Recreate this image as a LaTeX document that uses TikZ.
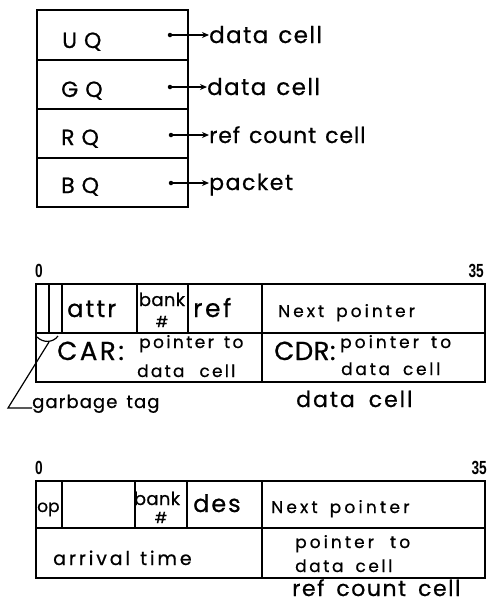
\documentclass[tikz,border=0pt]{standalone}
\usepackage{fontspec}
\setmainfont{Poppins}[FakeBold=0.7]
\newfontfamily\numfont{Liberation Sans}
\newcommand\fz[2]{\fontsize{#1}{#1}\selectfont\addfontfeature{LetterSpace=#2,FakeBold=0.7}}
\newcommand\gap[1]{\hspace{#1pt}}
\newcommand\bitnum[1]{\scalebox{0.72}[1]{\numfont\bfseries\fontsize{19}{19}\selectfont #1}}
\usetikzlibrary{arrows.meta}
\begin{document}
\begin{tikzpicture}[x=1pt,y=-1pt,
  cellbox/.style={draw,line width=1.6pt,anchor=north west,inner sep=0pt,outer sep=0pt},
  txt/.style={inner sep=0pt,anchor=base west},
  ctxt/.style={inner sep=0pt,anchor=base},
  ptr/.style={line width=1.4pt,-{Stealth[length=7pt,width=6pt]}},
  dotstart/.style={circle,fill,inner sep=0pt,minimum size=4.5pt},
  thin/.style={line width=1.2pt}]
\useasboundingbox (0,0) rectangle (487,603);
% ---------- queue box ----------
\node[cellbox,minimum width=151pt,minimum height=50pt] (uq) at (37,10) {};
\node[cellbox,minimum width=151pt,minimum height=49pt] (gq) at (37,60) {};
\node[cellbox,minimum width=151pt,minimum height=49pt] (rq) at (37,109) {};
\node[cellbox,minimum width=151pt,minimum height=49pt] (bq) at (37,158) {};
\node[txt,font=\fz{22}{2}] (uqt) at (62,48) {U\gap{7}Q};
\node[txt,font=\fz{22}{2}] (gqt) at (61,97) {G\gap{7}Q};
\node[txt,font=\fz{22}{2}] (rqt) at (61,145) {R\gap{7}Q};
\node[txt,font=\fz{22}{2}] (bqt) at (61,193) {B\gap{7}Q};
\node[txt,font=\fz{23}{6}] (t1) at (209,43) {data\gap{10}cell};
\node[txt,font=\fz{23}{6}] (t2) at (207,95) {data\gap{10}cell};
\node[txt,font=\fz{22}{4}] (t3) at (209,143) {ref\gap{9}count\gap{9}cell};
\node[txt,font=\fz{22}{7}] (t4) at (209,190) {packet};
\node[dotstart] (d1) at (170,35) {};
\node[dotstart] (d2) at (170,87) {};
\node[dotstart] (d3) at (171,135) {};
\node[dotstart] (d4) at (171,183) {};
\draw[ptr] (d1.center) -- (t1.west |- d1);
\draw[ptr] (d2.center) -- (t2.west |- d2);
\draw[ptr] (d3.center) -- (t3.west |- d3);
\draw[ptr] (d4.center) -- (t4.west |- d4);
% ---------- data cell ----------
\node[txt] (z1) at (35,277) {\bitnum{0}};
\node[inner sep=0pt,anchor=base east] (f1) at (484,277) {\bitnum{35}};
\node[cellbox,minimum width=13pt,minimum height=49pt] (g1) at (36,284) {};
\node[cellbox,minimum width=13pt,minimum height=49pt] (g2) at (49,284) {};
\node[cellbox,minimum width=75pt,minimum height=49pt] (attr) at (62,284) {};
\node[cellbox,minimum width=51pt,minimum height=49pt] (bank) at (137,284) {};
\node[cellbox,minimum width=74pt,minimum height=49pt] (ref) at (188,284) {};
\node[cellbox,minimum width=223pt,minimum height=49pt] (next) at (262,284) {};
\node[cellbox,minimum width=226pt,minimum height=49pt] (car) at (36,333) {};
\node[cellbox,minimum width=223pt,minimum height=49pt] (cdr) at (262,333) {};
\node[txt,font=\fz{24}{9}] at (67,317) {attr};
\node[ctxt,font=\fz{18}{2}] at (162,306) {bank};
\node[ctxt,font=\fz{15}{0}] at (162,327) {\#};
\node[txt,font=\fz{25}{10}] at (193,317) {ref};
\node[txt,font=\fz{17}{18}] at (278,317) {Next\gap{12}pointer};
\node[txt,font=\fz{26}{10}] at (57,360) {CAR:};
\node[txt,font=\fz{17}{14}] at (139,348) {pointer\gap{10}to};
\node[txt,font=\fz{17}{13}] at (137,377) {data\gap{15}cell};
\node[txt,font=\fz{26}{2}] at (274,360) {CDR:};
\node[txt,font=\fz{17}{18}] at (340,348) {pointer\gap{12}to};
\node[txt,font=\fz{17}{16}] at (341,375) {data\gap{13}cell};
\node[txt,font=\fz{22}{9}] at (296,407) {data\gap{14}cell};
% garbage tag
\coordinate (bl) at (37,337);
\coordinate (br) at (58,336);
\coordinate (gv) at (49,342);
\coordinate (gc) at (8,408);
\node[txt,font=\fz{18}{6}] (gt) at (32,408) {garbage\gap{9}tag};
\draw[thin] (bl) .. controls (43,343) and (53,343) .. (br);
\draw[thin] (gv) -- (gc) -- (gt.west |- gc);
% ---------- ref count cell ----------
\node[txt] (z2) at (35,474) {\bitnum{0}};
\node[inner sep=0pt,anchor=base east] (f2) at (487,474) {\bitnum{35}};
\node[cellbox,minimum width=26pt,minimum height=47pt] (op) at (36,481) {};
\node[cellbox,minimum width=73pt,minimum height=47pt] (blank) at (62,481) {};
\node[cellbox,minimum width=52pt,minimum height=47pt] (bank2) at (135,481) {};
\node[cellbox,minimum width=75pt,minimum height=47pt] (des) at (187,481) {};
\node[cellbox,minimum width=223pt,minimum height=47pt] (next2) at (262,481) {};
\node[cellbox,minimum width=226pt,minimum height=50pt] (arr) at (36,528) {};
\node[cellbox,minimum width=223pt,minimum height=50pt] (ptr2) at (262,528) {};
\node[txt,font=\fz{17}{0}] at (37,512) {op};
\node[ctxt,font=\fz{18}{2}] at (157,505) {bank};
\node[ctxt,font=\fz{15}{0}] at (161,523) {\#};
\node[txt,font=\fz{24}{8}] at (193,512) {des};
\node[txt,font=\fz{17}{19}] at (271,513) {Next\gap{12}pointer};
\node[txt,font=\fz{19}{15}] at (53,565) {arrival\gap{10}time};
\node[txt,font=\fz{17}{18}] at (295,548) {pointer\gap{16}to};
\node[txt,font=\fz{17}{15}] at (295,572) {data\gap{12}cell};
\node[txt,font=\fz{22}{7}] at (292,596) {ref\gap{12}count\gap{12}cell};
\end{tikzpicture}
\end{document}
